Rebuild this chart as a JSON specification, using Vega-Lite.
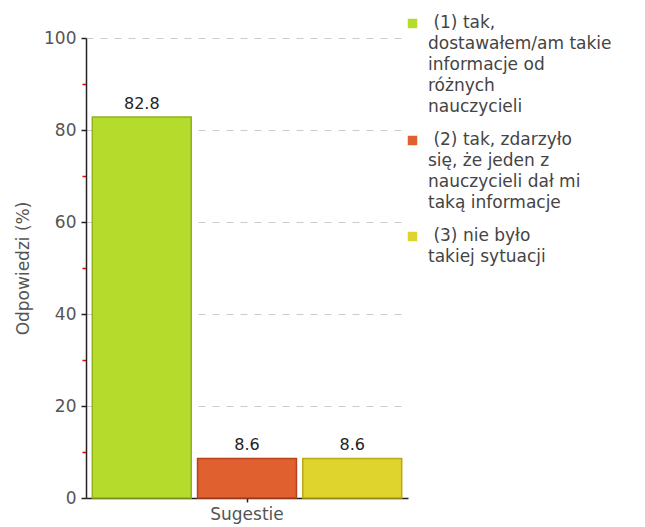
{
  "$schema": "https://vega.github.io/schema/vega-lite/v6.json",
  "width": 322,
  "height": 460,
  "autosize": "none",
  "padding": {"left": 86, "top": 38, "right": 237, "bottom": 29},
  "background": "white",
  "config": {
    "font": "DejaVu Sans",
    "view": {"stroke": null},
    "style": {"guide-label": {"lineHeight": 21}}
  },
  "data": {
    "values": [
      {"grupa": "Sugestie", "odp": "(1) tak, dostawałem/am takie informacje od różnych nauczycieli", "procent": 82.8},
      {"grupa": "Sugestie", "odp": "(2) tak, zdarzyło się, że jeden z nauczycieli dał mi taką informacje", "procent": 8.6},
      {"grupa": "Sugestie", "odp": "(3) nie było takiej sytuacji", "procent": 8.6}
    ]
  },
  "encoding": {
    "x": {
      "field": "grupa",
      "type": "nominal",
      "scale": {"paddingInner": 0, "paddingOuter": 0.01},
      "axis": {
        "title": null,
        "labelAngle": 0,
        "labelFontSize": 17,
        "labelColor": "#555",
        "labelPadding": 4,
        "tickSize": 4,
        "tickColor": "#222",
        "tickWidth": 1.5,
        "domainColor": "#222",
        "domainWidth": 1.5
      }
    },
    "xOffset": {
      "field": "odp",
      "type": "nominal",
      "scale": {"paddingInner": 0.06, "paddingOuter": 0.03}
    },
    "y": {
      "field": "procent",
      "type": "quantitative",
      "scale": {"domain": [0, 100]},
      "axis": {
        "title": "Odpowiedzi (%)",
        "values": [0, 10, 20, 30, 40, 50, 60, 70, 80, 90, 100],
        "labelExpr": "datum.value % 20 == 0 ? datum.label : ''",
        "labelOverlap": false,
        "labelFlush": false,
        "tickColor": {"condition": {"test": "datum.value % 20 == 0", "value": "#222"}, "value": "#ee0000"},
        "tickSize": {"condition": {"test": "datum.value % 20 == 0", "value": 5}, "value": 4},
        "tickWidth": 1.5,
        "grid": true,
        "gridDash": [7, 7],
        "gridColor": "#cccccc",
        "gridOpacity": {"condition": {"test": "datum.value % 20 == 0 && datum.value > 0", "value": 1}, "value": 0},
        "domainColor": "#222",
        "domainWidth": 1.5,
        "labelFontSize": 17,
        "labelColor": "#555",
        "labelPadding": 5,
        "titleFontSize": 17,
        "titleColor": "#555",
        "titleFontWeight": "normal",
        "titlePadding": 11
      }
    }
  },
  "layer": [
    {
      "mark": {"type": "bar", "strokeWidth": 1.5},
      "encoding": {
        "color": {
          "field": "odp",
          "type": "nominal",
          "scale": {"range": ["#b5dc2d", "#e0612f", "#dfd32e"]},
          "legend": {
            "title": null,
            "orient": "none",
            "legendX": 318,
            "legendY": -23,
            "symbolType": "square",
            "symbolSize": 90,
            "symbolStrokeWidth": 0,
            "labelOffset": 7,
            "labelFontSize": 17,
            "labelColor": "#444",
            "labelLimit": 300,
            "rowPadding": 15,
            "labelBaseline": "top",
            "encoding": {"labels": {"dy": {"value": -9}}},
            "labelExpr": "indexof(datum.value, '(1)') == 0 ? ['\u200b\u00a0(1) tak,', 'dostawałem/am takie', 'informacje od', 'różnych', 'nauczycieli'] : indexof(datum.value, '(2)') == 0 ? ['\u200b\u00a0(2) tak, zdarzyło', 'się, że jeden z', 'nauczycieli dał mi', 'taką informacje'] : ['\u200b\u00a0(3) nie było', 'takiej sytuacji']"
          }
        },
        "stroke": {
          "field": "odp",
          "type": "nominal",
          "scale": {"range": ["#8fb21a", "#b8401a", "#b7aa14"]},
          "legend": null
        }
      }
    },
    {
      "mark": {"type": "text", "baseline": "bottom", "dy": -5, "fontSize": 16, "color": "#222"},
      "encoding": {
        "text": {"field": "procent", "type": "quantitative", "format": ".1f"}
      }
    }
  ]
}
